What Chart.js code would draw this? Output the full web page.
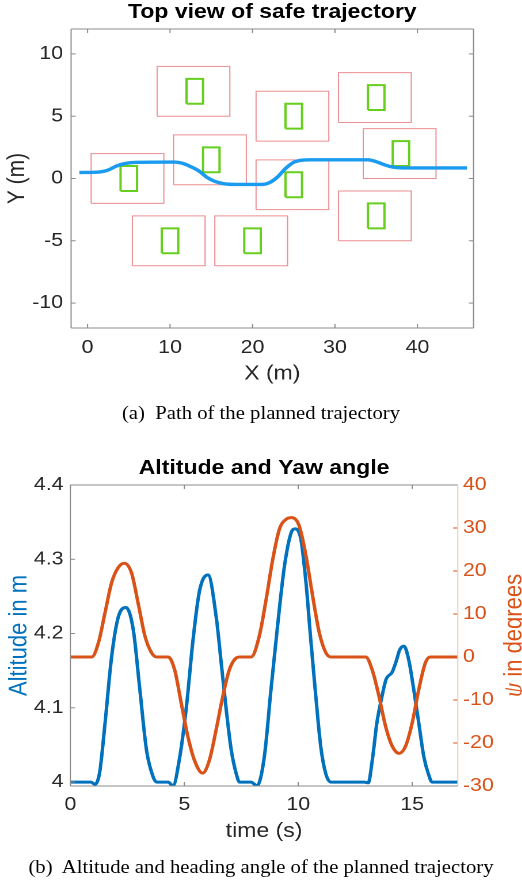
<!DOCTYPE html>
<html>
<head>
<meta charset="utf-8">
<script src="https://cdn.jsdelivr.net/npm/chart.js@4.4.1/dist/chart.umd.min.js"></script>
<style>
  html, body { margin:0; padding:0; background:#fff; }
  body { width:522px; height:886px; overflow:hidden; }
  /* la figura original está estirada en horizontal: se dibuja estrecha y se estira */
  #lienzo { position:relative; width:453.913px; height:886px; transform:scaleX(1.15); transform-origin:0 0; }
  .panel { position:absolute; left:0; width:453.913px; }
  .pie { position:absolute; left:0; width:453.913px; text-align:center; white-space:pre;
         font-family:"Liberation Serif","DejaVu Serif",serif; font-size:18px; line-height:20px; color:#000; }
</style>
</head>
<body>
<div id="lienzo">
  <div class="panel" style="top:0;height:400px"><canvas id="graficoTrayectoria"></canvas></div>
  <div class="pie" style="top:403px">(a)  Path of the planned trajectory</div>
  <div class="panel" style="top:440px;height:410px"><canvas id="graficoAltitud"></canvas></div>
  <div class="pie" style="top:857px">(b)  Altitude and heading angle of the planned trajectory</div>
</div>
<script>
const S = 1.15; // factor de estiramiento horizontal

// ---------- Vista superior ----------
const trayX = [-1, 1.5, 2.5, 3.5, 4.5, 6, 10.5, 11.5, 12.5, 13.5, 14.5, 15.5, 16.5, 18, 21, 22, 23, 24, 25, 26, 27, 34, 35, 36, 37, 38.3, 46];
const trayY = [0.48, 0.53, 0.68, 1.0, 1.2, 1.3, 1.32, 1.22, 0.95, 0.6, 0.08, -0.25, -0.42, -0.48, -0.48, -0.35, 0.1, 0.8, 1.3, 1.47, 1.5, 1.5, 1.35, 1.1, 0.92, 0.85, 0.85];
// centro de cada obstáculo (caja verde de 2 x 2 m)
const obsX = [5, 13, 15, 25, 25, 35, 38, 35, 10, 20];
const obsY = [0, 7, 1.5, 5, -0.5, 6.5, 2, -3, -5, -5];
const obsMedio = 1;
// zona de seguridad (caja roja) alrededor de cada obstáculo, en m
const segIzq = 4.57, segDer = 4.25, segAlto = 2;
const ticksXTop = [0, 10, 20, 30, 40];
const ticksYTop = [-10, -5, 0, 5, 10];

// ---------- Altitud y yaw ----------
const tAlt = [0, 0.9, 1.08, 1.2, 1.3, 1.52, 1.81, 2.1, 2.44, 2.76, 3.05, 3.34, 3.63, 3.78, 4.29, 4.5, 4.8, 5.09, 5.38, 5.67, 6.04, 6.4, 6.62, 6.84, 7.06, 7.28, 7.42, 7.93, 8.19, 8.51, 8.8, 9.1, 9.39, 9.68, 9.87, 10.12, 10.34, 10.55, 10.77, 10.99, 11.21, 11.43, 12.89, 13.07, 13.25, 13.45, 13.65, 13.85, 14.12, 14.3, 14.45, 14.64, 14.85, 15.07, 15.29, 15.51, 15.73, 15.87, 17];
const altitud = [4.0, 4.0, 3.997, 4.002, 4.016, 4.079, 4.169, 4.222, 4.235, 4.205, 4.124, 4.043, 4.007, 4.0, 4.0, 3.995, 4.034, 4.101, 4.191, 4.258, 4.279, 4.222, 4.16, 4.097, 4.043, 4.011, 4.0, 4.0, 3.995, 4.034, 4.124, 4.213, 4.29, 4.335, 4.341, 4.326, 4.268, 4.191, 4.115, 4.047, 4.011, 4.0, 4.0, 3.999, 4.03, 4.08, 4.112, 4.138, 4.148, 4.163, 4.178, 4.183, 4.164, 4.124, 4.079, 4.034, 4.009, 4.0, 4.0];
const tYaw = [0, 0.94, 1.23, 1.52, 1.81, 2.1, 2.36, 2.68, 2.97, 3.27, 3.56, 3.78, 4.29, 4.58, 4.87, 5.16, 5.45, 5.8, 6.11, 6.4, 6.69, 6.98, 7.28, 7.42, 7.93, 8.29, 8.59, 8.88, 9.17, 9.46, 9.72, 10.04, 10.34, 10.63, 10.92, 11.21, 11.43, 12.96, 13.25, 13.54, 13.83, 14.12, 14.42, 14.71, 15.0, 15.29, 15.58, 15.8, 17];
const yaw = [0, 0, 3.3, 10.3, 17.3, 20.8, 21.8, 19.6, 12.6, 4.9, 1.0, 0, 0, -3.1, -10.9, -18.6, -24.1, -27.0, -23.8, -16.8, -9.1, -2.9, -0.2, 0, 0, 4.9, 13.4, 22.7, 29.7, 32.0, 32.4, 30.5, 23.5, 14.2, 5.7, 1.0, 0, 0, -3.1, -9.1, -16.1, -20.7, -22.4, -20.7, -15.3, -7.5, -1.3, 0, 0];
const ticksT = [0, 5, 10, 15];
const ticksAlt = [4, 4.1, 4.2, 4.3, 4.4];
const etiqAlt = ['4', '4.1', '4.2', '4.3', '4.4'];
const ticksYaw = [-30, -20, -10, 0, 10, 20, 30, 40];

const AZUL = '#0072BD', NARANJA = '#D95319', GRIS = '#8a8a8a', TEXTO = '#262626';

Chart.defaults.font.family = '"Liberation Sans", Arial, sans-serif';
Chart.defaults.color = TEXTO;

// ejes en caja con marcas hacia dentro (estilo MATLAB)
const cajaEjes = {
    id: 'cajaEjes',
    afterDatasetsDraw(chart, args, o){
        const {ctx, chartArea: a, scales} = chart;
        const L = 4;
        const raya = (x1, y1, x2, y2, color) => {
            ctx.strokeStyle = color;
            ctx.beginPath(); ctx.moveTo(x1, y1); ctx.lineTo(x2, y2); ctx.stroke();
        };
        ctx.save();
        ctx.lineWidth = 1;
        scales.x.ticks.forEach(t => {
            const px = scales.x.getPixelForValue(t.value);
            raya(px, a.bottom, px, a.bottom - L, o.color);
            raya(px, a.top, px, a.top + L, o.color);
        });
        const yI = scales[o.ejeIzq];
        yI.ticks.forEach(t => {
            const py = yI.getPixelForValue(t.value);
            raya(a.left, py, a.left + L, py, o.color);
            if(!o.ejeDer) raya(a.right, py, a.right - L, py, o.color);
        });
        if(o.ejeDer){
            const yD = scales[o.ejeDer];
            yD.ticks.forEach(t => {
                const py = yD.getPixelForValue(t.value);
                raya(a.right, py, a.right - L, py, o.colorDer);
            });
        }
        raya(a.left, a.top, a.right, a.top, o.color);
        raya(a.left, a.bottom, a.right, a.bottom, o.color);
        raya(a.left, a.top, a.left, a.bottom, o.color);
        raya(a.right, a.top, a.right, a.bottom, o.ejeDer ? o.bordeDer : o.color);
        ctx.restore();
    }
};

// etiqueta del eje derecho con psi en cursiva
const etiquetaPsi = {
    id: 'etiquetaPsi',
    afterDraw(chart, args, o){
        if(!o.texto) return;
        const {ctx, chartArea: a} = chart;
        const fPsi = 'italic 23px "Liberation Serif", serif';
        const fTxt = '22px "Liberation Sans", Arial, sans-serif';
        ctx.save();
        ctx.translate(o.x, (a.top + a.bottom) / 2);
        ctx.rotate(-Math.PI / 2);
        ctx.fillStyle = o.color;
        ctx.textBaseline = 'middle';
        ctx.textAlign = 'left';
        ctx.font = fPsi; const w1 = ctx.measureText(o.simbolo).width;
        ctx.font = fTxt; const w2 = ctx.measureText(o.texto).width;
        const x0 = -(w1 + w2) / 2;
        ctx.font = fPsi; ctx.fillText(o.simbolo, x0, 0);
        ctx.font = fTxt; ctx.fillText(o.texto, x0 + w1, 0);
        ctx.restore();
    }
};

function caja(x0, x1, y0, y1){
    return [{x:x0, y:y0}, {x:x1, y:y0}, {x:x1, y:y1}, {x:x0, y:y1}, {x:x0, y:y0}];
}

function ejeLineal(min, max, valores, extra){
    return Object.assign({
        type: 'linear', min, max,
        afterBuildTicks: s => { s.ticks = valores.map(v => ({value: v})); },
        grid: {display: false, drawTicks: false},
        border: {display: false}
    }, extra);
}

// --- gráfico 1: trayectoria ---
const dsTray = [{
    data: trayX.map((x, i) => ({x, y: trayY[i]})),
    borderColor: '#1A9BEF', borderWidth: 3.4, pointRadius: 0,
    cubicInterpolationMode: 'monotone', fill: false
}];
obsX.forEach((cx, i) => {
    const cy = obsY[i];
    dsTray.push({
        data: caja(cx - obsMedio, cx + obsMedio, cy - obsMedio, cy + obsMedio),
        borderColor: '#66CF1E', borderWidth: 2, pointRadius: 0, tension: 0, fill: false
    });
});
obsX.forEach((cx, i) => {
    const cy = obsY[i];
    dsTray.push({
        data: caja(cx - segIzq, cx + segDer, cy - segAlto, cy + segAlto),
        borderColor: '#EC8E92', borderWidth: 1, pointRadius: 0, tension: 0, fill: false
    });
});

new Chart(document.getElementById('graficoTrayectoria').getContext('2d'), {
    type: 'line',
    data: {datasets: dsTray},
    options: {
        responsive: true, maintainAspectRatio: false, animation: false, events: [],
        devicePixelRatio: 2,
        layout: {padding: {left: 0, right: 49 / S, top: 0, bottom: 0}},
        plugins: {
            legend: {display: false}, tooltip: {enabled: false},
            title: {display: true, fullSize: false, text: 'Top view of safe trajectory', color: '#000',
                    font: {size: 20, weight: 'bold'}, padding: {top: 0.5, bottom: 4.5}},
            cajaEjes: {color: GRIS, ejeIzq: 'y'}
        },
        scales: {
            x: ejeLineal(-2, 46.8, ticksXTop, {
                afterFit: s => { s.height = 72; },
                ticks: {padding: 9, font: {size: 18.5}, color: TEXTO, maxRotation: 0, autoSkip: false},
                title: {display: true, text: 'X (m)', font: {size: 20}, color: TEXTO, padding: {top: 0, bottom: 14}}
            }),
            y: ejeLineal(-12, 12, ticksYTop, {
                afterFit: s => { s.width = 71 / S; },
                ticks: {padding: 7, font: {size: 18.5}, color: TEXTO, autoSkip: false},
                title: {display: true, text: 'Y (m)', font: {size: 21}, color: TEXTO, padding: {top: 2.5, bottom: 0}}
            })
        }
    },
    plugins: [cajaEjes]
});

// --- gráfico 2: altitud y ángulo de guiñada ---
new Chart(document.getElementById('graficoAltitud').getContext('2d'), {
    type: 'line',
    data: {datasets: [
        {label: 'yaw', data: tYaw.map((t, i) => ({x: t, y: yaw[i]})), yAxisID: 'yYaw',
         borderColor: NARANJA, borderWidth: 3, pointRadius: 0, cubicInterpolationMode: 'monotone', fill: false},
        {label: 'altitud', data: tAlt.map((t, i) => ({x: t, y: altitud[i]})), yAxisID: 'yAlt',
         borderColor: AZUL, borderWidth: 3, pointRadius: 0, cubicInterpolationMode: 'monotone', fill: false}
    ]},
    options: {
        responsive: true, maintainAspectRatio: false, animation: false, events: [],
        devicePixelRatio: 2,
        layout: {padding: 0},
        plugins: {
            legend: {display: false}, tooltip: {enabled: false},
            title: {display: true, fullSize: false, text: 'Altitude and Yaw angle', color: '#000',
                    font: {size: 20, weight: 'bold'}, padding: {top: 16.7, bottom: 4.3}},
            cajaEjes: {color: GRIS, ejeIzq: 'yAlt', ejeDer: 'yYaw', colorDer: NARANJA, bordeDer: '#EDCBB2'},
            etiquetaPsi: {simbolo: 'ψ', texto: ' in degrees', color: NARANJA, x: 514 / S}
        },
        scales: {
            x: ejeLineal(0, 17, ticksT, {
                afterFit: s => { s.height = 64; },
                ticks: {padding: 8, font: {size: 18.5}, color: TEXTO, maxRotation: 0, autoSkip: false},
                title: {display: true, text: 'time (s)', font: {size: 20}, color: TEXTO, padding: {top: 0, bottom: 6.3}}
            }),
            yAlt: ejeLineal(3.9947, 4.4, ticksAlt, {
                position: 'left',
                afterFit: s => { s.width = 70.3 / S; },
                ticks: {padding: 6, font: {size: 18.5}, color: TEXTO, autoSkip: false, callback: (v, i) => etiqAlt[i]},
                title: {display: true, text: 'Altitude in m', font: {size: 22}, color: AZUL, padding: {top: 3.5, bottom: 0}}
            }),
            yYaw: ejeLineal(-30, 40, ticksYaw, {
                position: 'right',
                afterFit: s => { s.width = (522 - 457.3) / S; },
                ticks: {padding: 4.5, font: {size: 18.5}, color: NARANJA, autoSkip: false}
            })
        }
    },
    plugins: [cajaEjes, etiquetaPsi]
});
</script>
</body>
</html>
